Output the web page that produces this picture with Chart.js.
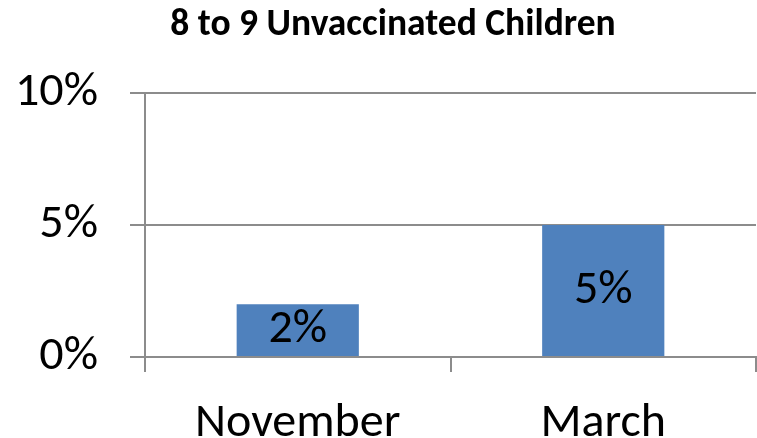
<!DOCTYPE html>
<html>
<head>
<meta charset="utf-8">
<script src="https://cdn.jsdelivr.net/npm/chart.js@4"></script>
<style>
  html, body { margin: 0; padding: 0; background: #fff; }
  #wrap { width: 757px; height: 438px; }
</style>
</head>
<body>
<div id="wrap"><canvas id="chart"></canvas></div>
<script>
// data
const categories = ["November", "March"];
const values = [2, 5];
const yTicks = [0, 5, 10];
const chartTitle = "8 to 9 Unvaccinated Children";

const fontFamily = "Carlito, 'Open Sans', sans-serif";
const gridColor = "#8c8c8c";

// title sits a bit right of the canvas centre, like the original
const titleDraw = {
  id: "titleDraw",
  afterDraw(chart) {
    const ctx = chart.ctx;
    ctx.save();
    ctx.font = "bold 37.5px " + fontFamily;
    ctx.fillStyle = "#000";
    ctx.textAlign = "center";
    ctx.textBaseline = "alphabetic";
    ctx.fillText(chartTitle, 393, 35);
    ctx.restore();
  }
};

// draws the value inside each bar
const barLabels = {
  id: "barLabels",
  afterDatasetsDraw(chart) {
    const ctx = chart.ctx;
    const meta = chart.getDatasetMeta(0);
    ctx.save();
    ctx.font = "48px " + fontFamily;
    ctx.fillStyle = "#000";
    ctx.textAlign = "center";
    ctx.textBaseline = "middle";
    meta.data.forEach((bar, i) => {
      const mid = (bar.y + bar.base) / 2;
      ctx.fillText(values[i] + "%", bar.x, mid);
    });
    ctx.restore();
  }
};

new Chart(document.getElementById("chart"), {
  type: "bar",
  data: {
    labels: categories,
    datasets: [{
      data: values,
      backgroundColor: "#4f81bd",
      categoryPercentage: 1,
      barPercentage: 0.4
    }]
  },
  options: {
    responsive: true,
    maintainAspectRatio: false,
    animation: false,
    layout: { padding: { left: 0, right: 1, top: 93, bottom: 0 } },
    plugins: {
      legend: { display: false },
      tooltip: { enabled: false },
      title: { display: false }
    },
    scales: {
      x: {
        offset: true,
        grid: {
          offset: true,
          drawOnChartArea: false,
          drawTicks: true,
          tickLength: 15,
          color: gridColor,
          lineWidth: 2
        },
        border: { color: gridColor, width: 2 },
        ticks: {
          color: "#000",
          padding: 23,
          font: { family: fontFamily, size: 48 }
        },
        afterFit(scale) { scale.height = 81; }
      },
      y: {
        min: 0,
        max: 10,
        afterBuildTicks(scale) {
          scale.ticks = yTicks.map(v => ({ value: v }));
        },
        grid: {
          color: gridColor,
          lineWidth: 2,
          tickLength: 15
        },
        border: { color: gridColor, width: 2 },
        ticks: {
          color: "#000",
          padding: 32,
          font: { family: fontFamily, size: 48 },
          callback: v => v + "%"
        },
        afterFit(scale) { scale.width = 145; }
      }
    }
  },
  plugins: [barLabels, titleDraw]
});
</script>
</body>
</html>
